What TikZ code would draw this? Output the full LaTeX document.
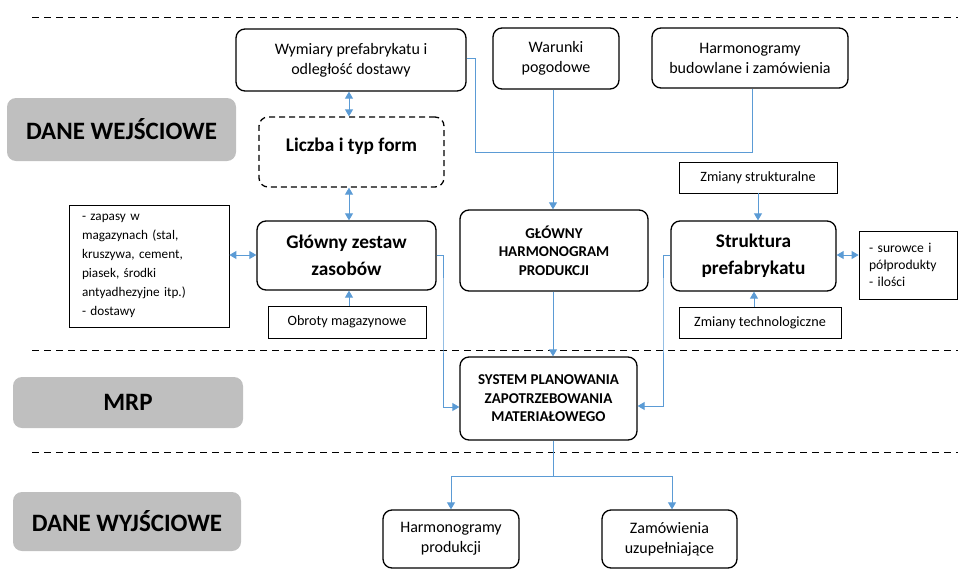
\documentclass[tikz,border=0pt]{standalone}
\usepackage{fontspec}
\setmainfont{Carlito}
\usetikzlibrary{arrows.meta,calc}
\definecolor{cblue}{HTML}{5B9BD5}
\definecolor{cgray}{HTML}{BFBFBF}
\tikzset{
  box/.style={draw=black,line width=1.3pt,rounded corners=9pt,align=center,inner sep=0pt,font=\fontsize{16}{20}\selectfont},
  dbox/.style={box,dashed,dash pattern=on 6pt off 4pt},
  sbox/.style={draw=black,line width=0.8pt,align=center,inner sep=0pt,font=\fontsize{14.2}{17}\selectfont},
  gbox/.style={fill=cgray,draw=none,rounded corners=9pt,inner sep=0pt,font=\fontsize{25}{28}\selectfont\bfseries},
  btitle/.style={font=\fontsize{19.3}{27}\selectfont\bfseries},
  ctitle/.style={font=\fontsize{15}{18.5}\selectfont\bfseries},
  conn/.style={draw=cblue,line width=0.9pt},
  arr/.style={conn,-{Triangle[width=8pt,length=7pt]}},
  dbl/.style={conn,{Triangle[width=8pt,length=7pt]}-{Triangle[width=8pt,length=7pt]}},
  sep/.style={draw=black,line width=1pt,dash pattern=on 7pt off 5pt}
}
\begin{document}
\begin{tikzpicture}[x=1pt,y=-1pt]
\useasboundingbox (0,0) rectangle (958,573);
% separators
\coordinate (s1a) at (32,17); \coordinate (s1b) at (958,17);
\coordinate (s2a) at (32,350); \coordinate (s2b) at (958,350);
\coordinate (s3a) at (32,452); \coordinate (s3b) at (958,452);
\draw[sep] (s1a) -- (s1b);
\draw[sep] (s2a) -- (s2b);
\draw[sep] (s3a) -- (s3b);
% gray labels
\node[gbox,minimum width=229pt,minimum height=63pt] (g1) at (121.5,129.5) {DANE WEJŚCIOWE};
\node[gbox,minimum width=230pt,minimum height=51pt] (g2) at (128,402.5) {MRP};
\node[gbox,minimum width=228pt,minimum height=59pt] (g3) at (127,521.5) {DANE WYJŚCIOWE};
% top row
\node[box,minimum width=230pt,minimum height=62pt] (wym) at (351,60) {Wymiary prefabrykatu i\\odległość dostawy};
\node[box,minimum width=126pt,minimum height=61pt] (war) at (556,58.5) {Warunki\\pogodowe};
\node[box,minimum width=196pt,minimum height=60pt] (harm) at (750,58) {Harmonogramy\\budowlane i zamówienia};
\node[dbox,minimum width=185pt,minimum height=70pt,label={[btitle,yshift=6pt]center:Liczba i typ form}] (lic) at (351.5,152) {};
\node[sbox,minimum width=158pt,minimum height=31pt] (zs) at (758,177.5) {Zmiany strukturalne};
% middle row
\node[sbox,minimum width=160pt,minimum height=122pt,text width=134pt,align=left,font=\fontsize{13.2}{19}\selectfont] (infL) at (149,266) {- zapasy w\\magazynach (stal,\\kruszywa, cement,\\piasek, środki\\antyadhezyjne itp.)\\- dostawy};
\node[box,btitle,minimum width=179pt,minimum height=69pt] (gz) at (346.5,255.5) {Główny zestaw\\zasobów};
\node[sbox,minimum width=158pt,minimum height=32pt] (ob) at (347,322) {Obroty magazynowe};
\node[box,ctitle,minimum width=188pt,minimum height=81pt] (ghp) at (554,250.5) {GŁÓWNY\\HARMONOGRAM\\PRODUKCJI};
\node[box,btitle,minimum width=165pt,minimum height=70pt] (str) at (753.5,256) {Struktura\\prefabrykatu};
\node[sbox,minimum width=98pt,minimum height=68pt,text width=78pt,align=left,font=\fontsize{13.6}{17}\selectfont] (infR) at (908,265) {- surowce i\\półprodukty\\- ilości};
\node[sbox,minimum width=162pt,minimum height=31pt] (zt) at (760,322.5) {Zmiany technologiczne};
% MRP
\node[box,ctitle,minimum width=177pt,minimum height=83pt] (sys) at (548.5,398.5) {SYSTEM PLANOWANIA\\ZAPOTRZEBOWANIA\\MATERIAŁOWEGO};
% outputs
\node[box,minimum width=136pt,minimum height=58pt] (hp) at (451,539) {Harmonogramy\\produkcji};
\node[box,minimum width=135pt,minimum height=58pt] (zu) at (669.5,539) {Zamówienia\\uzupełniające};
% connectors
\draw[dbl] (wym.south -| 349,0) -- (lic.north -| 349,0);
\draw[dbl] (lic.south -| 349,0) -- (gz.north -| 349,0);
\draw[arr] (ob.north -| 349,0) -- (gz.south -| 349,0);
\draw[dbl] (infL.east |- 0,255) -- (gz.west |- 0,255);
\draw[conn] (wym.east |- 0,58) -| (475,152) -| (harm.south -| 752,0);
\draw[arr] (war.south -| 553,0) -- (ghp.north -| 553,0);
\draw[arr] (ghp.south -| 553,0) -- (sys.north -| 553,0);
\draw[arr] (gz.east |- 0,255) -| (443,300) |- (sys.west |- 0,407);
\draw[arr] (zs.south -| 758,0) -- (str.north -| 758,0);
\draw[arr] (zt.north -| 754,0) -- (str.south -| 754,0);
\draw[dbl] (str.east |- 0,255) -- (infR.west |- 0,255);
\draw[arr] (str.west |- 0,255) -| (663,300) |- (sys.east |- 0,406);
\coordinate (br) at (553,476);
\draw[conn] (sys.south -| 553,0) -- (br);
\draw[arr] (br) -| (hp.north);
\draw[arr] (br) -| (zu.north -| 672,0);
\end{tikzpicture}
\end{document}
